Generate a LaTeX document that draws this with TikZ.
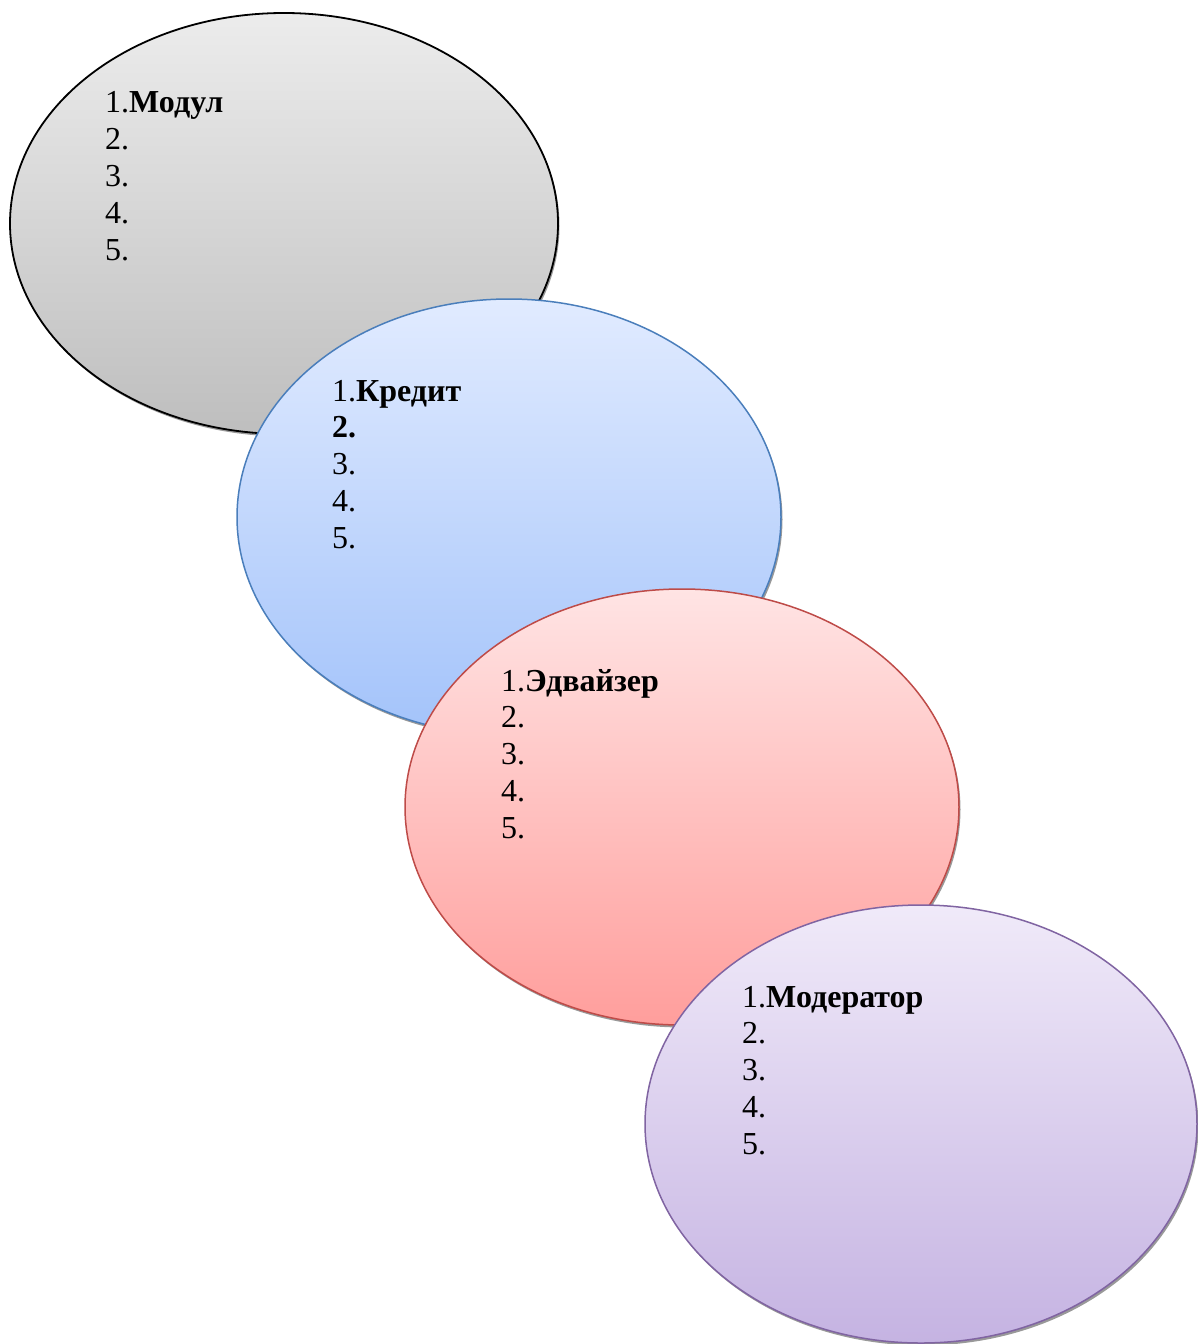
\documentclass[tikz,border=0pt]{standalone}
\usepackage{fontspec}
\setmainfont{Liberation Serif}
\usetikzlibrary{shapes.geometric,shadows}
\definecolor{gtop}{RGB}{236,236,236}\definecolor{gbot}{RGB}{190,190,190}
\definecolor{btop}{RGB}{225,235,255}\definecolor{bbot}{RGB}{163,195,250}
\definecolor{rtop}{RGB}{255,228,228}\definecolor{rbot}{RGB}{255,158,156}
\definecolor{ptop}{RGB}{240,234,249}\definecolor{pbot}{RGB}{197,179,226}
\definecolor{bline}{RGB}{74,126,187}\definecolor{rline}{RGB}{190,75,72}
\definecolor{pline}{RGB}{128,100,162}
\tikzset{
  oval/.style={ellipse, inner sep=0pt, line width=1.5pt,
    drop shadow={shadow xshift=1.5pt, shadow yshift=-2.5pt, fill=black!40, opacity=1}},
  txt/.style={anchor=base west, inner sep=0pt, font=\fontsize{32}{37}\selectfont}
}
\begin{document}
\begin{tikzpicture}[x=1pt,y=-1pt]
\useasboundingbox (0,0) rectangle (1197,1344);
% ellipse 1
\node[oval, draw=black, line width=1.8pt, top color=gtop, bottom color=gbot,
  minimum width=548pt, minimum height=421pt] (e1) at (284,223.5) {};
\foreach \t [count=\i] in {1.\textbf{Модул},2.,3.,4.,5.}
  \node[txt] (a\i) at (105,{112+(\i-1)*37}) {\t};
% ellipse 2
\node[oval, draw=bline, top color=btop, bottom color=bbot,
  minimum width=544pt, minimum height=436pt] (e2) at (509,517) {};
\foreach \t [count=\i] in {1.\textbf{Кредит},\textbf{2.},3.,4.,5.}
  \node[txt] (b\i) at (332,{401+(\i-1)*36.8}) {\t};
% ellipse 3
\node[oval, draw=rline, top color=rtop, bottom color=rbot,
  minimum width=554pt, minimum height=436pt] (e3) at (682,807) {};
\foreach \t [count=\i] in {1.\textbf{Эдвайзер},2.,3.,4.,5.}
  \node[txt] (c\i) at (501,{691+(\i-1)*36.8}) {\t};
% ellipse 4
\node[oval, draw=pline, top color=ptop, bottom color=pbot,
  minimum width=552pt, minimum height=438pt] (e4) at (921,1124) {};
\foreach \t [count=\i] in {1.\textbf{Модератор},2.,3.,4.,5.}
  \node[txt] (d\i) at (742,{1007+(\i-1)*36.8}) {\t};
\end{tikzpicture}
\end{document}
